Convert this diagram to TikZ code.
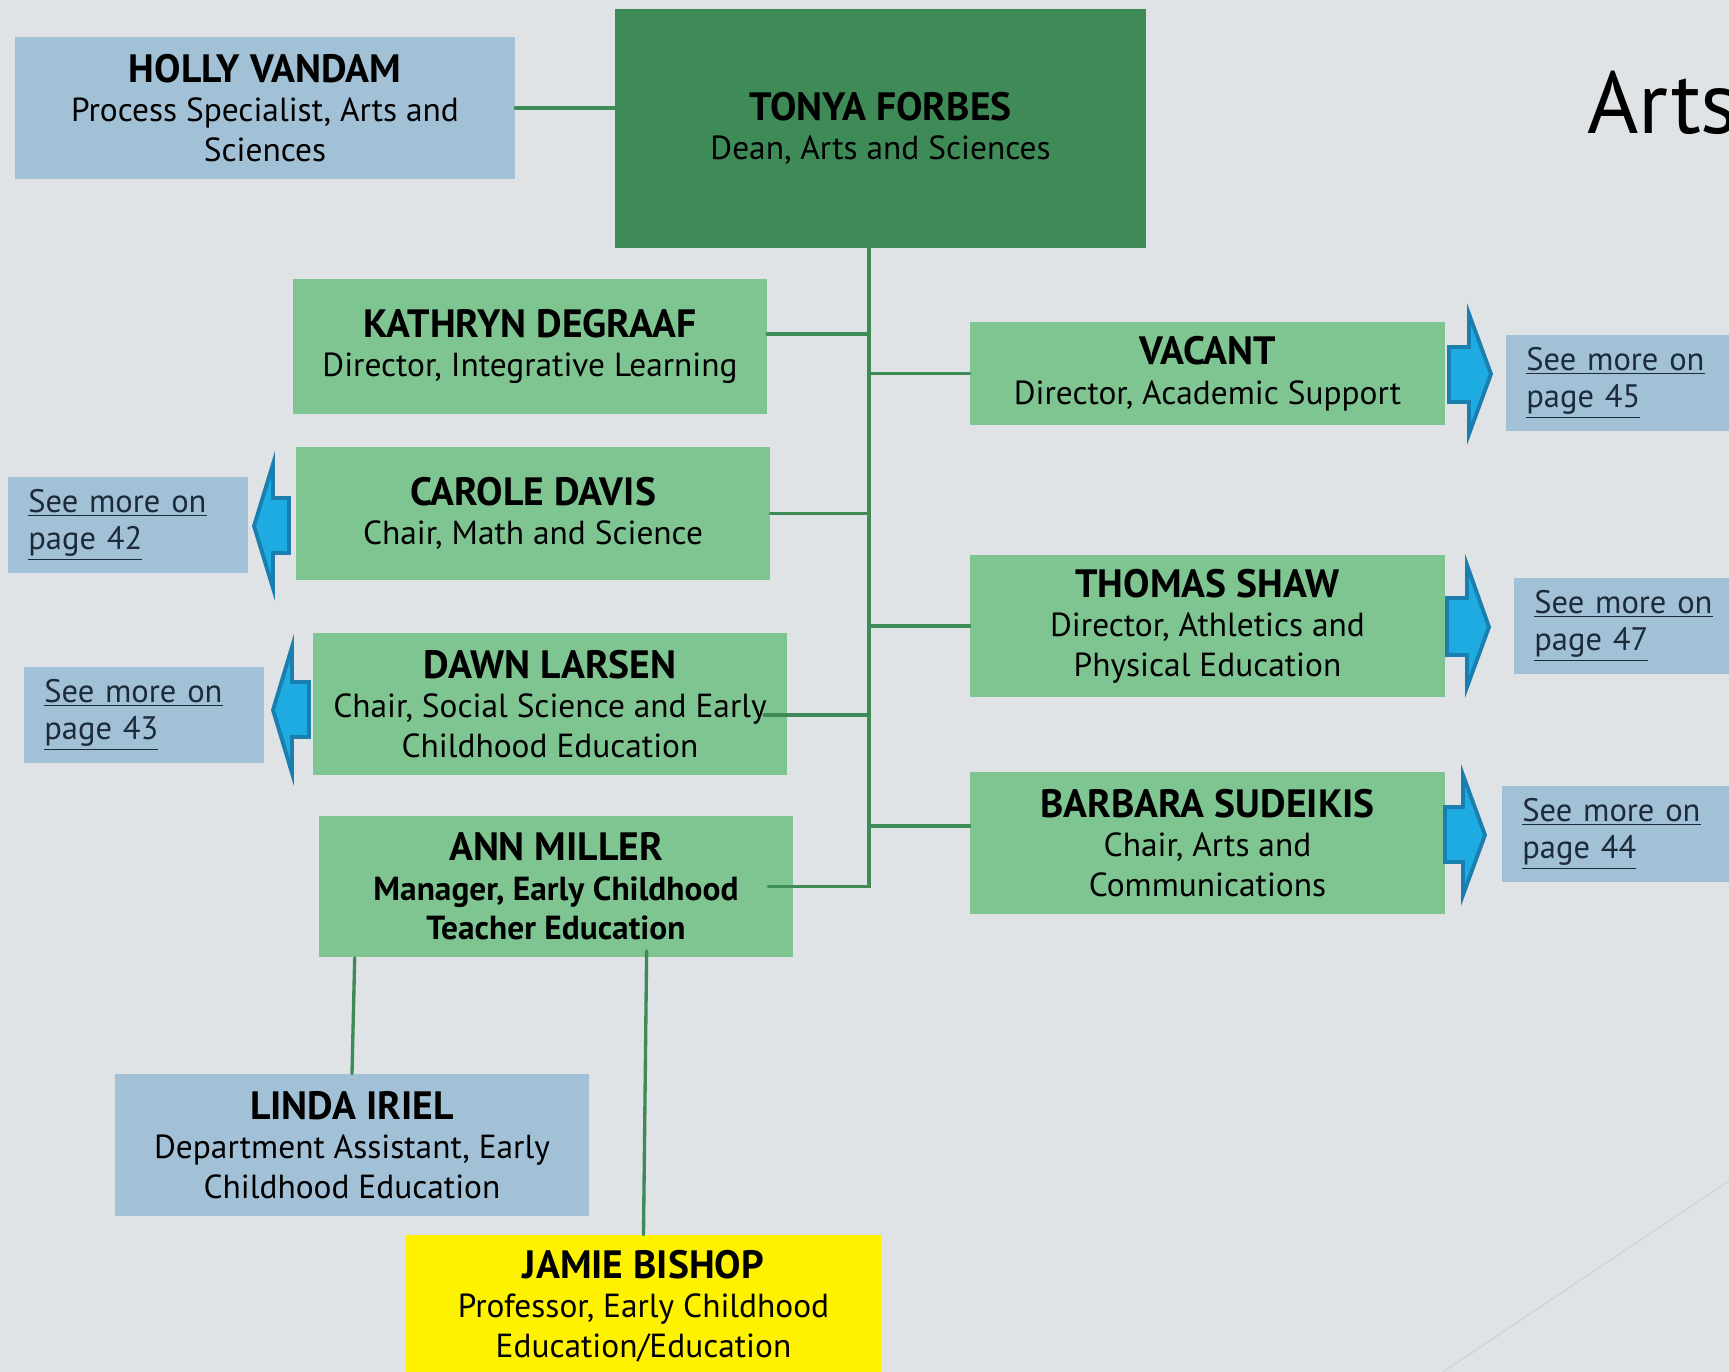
\documentclass[tikz,border=0pt]{standalone}
\usepackage{fontspec}
\setmainfont{PT Sans}
\usetikzlibrary{positioning}
\definecolor{slide}{HTML}{DFE3E6}
\definecolor{slideline}{HTML}{D4D6D8}
\definecolor{deangreen}{HTML}{3E8B57}
\definecolor{staffgreen}{HTML}{7FC592}
\definecolor{staffblue}{HTML}{A2C1D7}
\definecolor{pointerfill}{HTML}{1DABE2}
\definecolor{pointeredge}{HTML}{1A7FAE}
\definecolor{linktext}{HTML}{1C2B39}
\newcommand{\pname}[1]{{\fontsize{22.5}{22.5}\selectfont\bfseries #1}}
\newcommand{\seepage}[1]{\underline{See more on}\\\underline{page #1}}

\begin{document}
\begin{tikzpicture}[x=0.02cm, y=-0.02cm,
 person/.style={fill=staffgreen, minimum width=9.48cm, minimum height=2.84cm, inner sep=0pt, align=center, font=\fontsize{19}{22.5}\selectfont},
 assistant/.style={person, fill=staffblue},
 seemore/.style={fill=staffblue, anchor=west, minimum width=4.8cm, minimum height=1.92cm, inner xsep=0.4cm, inner ysep=0pt, text width=4cm, align=left, text=linktext, font=\fontsize{18.5}{21}\selectfont},
 wire/.style={draw=deangreen, line width=1.9pt, line cap=round},
 pointer/.style={fill=pointerfill, draw=pointeredge, line width=2.2pt, line join=miter}]
 \useasboundingbox (0,0) rectangle (1729,1372);
 \fill[slide] (0,0) rectangle (1729,1372);
 \draw[slideline, line width=1pt] (1443,1372) -- (1729,1181);
 \node[anchor=base west, font=\fontsize{50}{60}\selectfont] (title) at (1581,133) {Arts};

 \node[person, fill=deangreen, minimum width=10.62cm, minimum height=4.78cm] (tonya) at (880.5,128.5) {\pname{TONYA FORBES}\\Dean, Arts and Sciences};
 \node[assistant, minimum width=10cm] (holly) at (265,108) {\pname{HOLLY VANDAM}\\Process Specialist, Arts and\\Sciences};
 \node[person, minimum height=2.7cm] (kathryn) at (530,346.5) {\pname{KATHRYN DEGRAAF}\\Director, Integrative Learning};
 \node[person, minimum height=2.66cm] (carole) at (533,513.5) {\pname{CAROLE DAVIS}\\Chair, Math and Science};
 \node[person] (dawn) at (550,704) {\pname{DAWN LARSEN}\\Chair, Social Science and Early\\Childhood Education};
 \node[person] (ann) at (556,886.5) {\pname{ANN MILLER}\\\textbf{Manager, Early Childhood}\\\textbf{Teacher Education}};
 \node[assistant] (linda) at (352,1145) {\pname{LINDA IRIEL}\\Department Assistant, Early\\Childhood Education};
 \node[person, fill=yellow, minimum width=9.52cm] (jamie) at (643.5,1306) {\pname{JAMIE BISHOP}\\Professor, Early Childhood\\Education/Education};
 \node[person, minimum width=9.5cm, minimum height=2.06cm] (vacant) at (1207.5,373.5) {\pname{VACANT}\\Director, Academic Support};
 \node[person, minimum width=9.5cm] (thomas) at (1207.5,626) {\pname{THOMAS SHAW}\\Director, Athletics and\\Physical Education};
 \node[person, minimum width=9.5cm] (barbara) at (1207.5,843) {\pname{BARBARA SUDEIKIS}\\Chair, Arts and\\Communications};

 \node[seemore] (page45) at (1506,383) {\seepage{45}};
 \node[seemore] (page47) at (1514,626) {\seepage{47}};
 \node[seemore] (page44) at (1502,834) {\seepage{44}};
 \node[seemore] (page42) at (8,525) {\seepage{42}};
 \node[seemore] (page43) at (24,715) {\seepage{43}};

 \coordinate (spine) at (869,0);
 \draw[wire] (holly.east) -- (tonya.west |- holly.east);
 \draw[wire] (tonya.south -| spine) -- (ann.east -| spine) -- ([xshift=-0.5cm]ann.east);
 \draw[wire] ([yshift=0.25cm]kathryn.east) coordinate (kb) -- (kb -| spine);
 \draw[wire] (vacant.west) -- (vacant.west -| spine);
 \draw[wire] (carole.east) -- (carole.east -| spine);
 \draw[wire] (thomas.west) -- (thomas.west -| spine);
 \draw[wire] ([xshift=-0.46cm,yshift=-0.22cm]dawn.east) coordinate (db) -- (db -| spine);
 \draw[wire] ([yshift=0.34cm]barbara.west) coordinate (bb) -- (bb -| spine);
 \draw[wire] ([xshift=0.72cm]ann.south west) -- (linda.north);
 \draw[wire] ([xshift=6.56cm,yshift=0.14cm]ann.south west) -- (jamie.north);

 \filldraw[pointer] (1449,347) -- (1469,347) -- (1469,314) -- (1491,374) -- (1469,434) -- (1469,402) -- (1449,402) -- cycle;
 \filldraw[pointer] (1447,598) -- (1467,598) -- (1467,565) -- (1489,627) -- (1467,687) -- (1467,655) -- (1447,655) -- cycle;
 \filldraw[pointer] (1445,807) -- (1463,807) -- (1463,775) -- (1485,835) -- (1463,895) -- (1463,862) -- (1445,862) -- cycle;
 \filldraw[pointer] (289,498) -- (273,498) -- (273,464) -- (254,526) -- (273,588) -- (273,553) -- (289,553) -- cycle;
 \filldraw[pointer] (309,682) -- (292,682) -- (292,647) -- (273,710) -- (292,773) -- (292,737) -- (309,737) -- cycle;
\end{tikzpicture}
\end{document}
